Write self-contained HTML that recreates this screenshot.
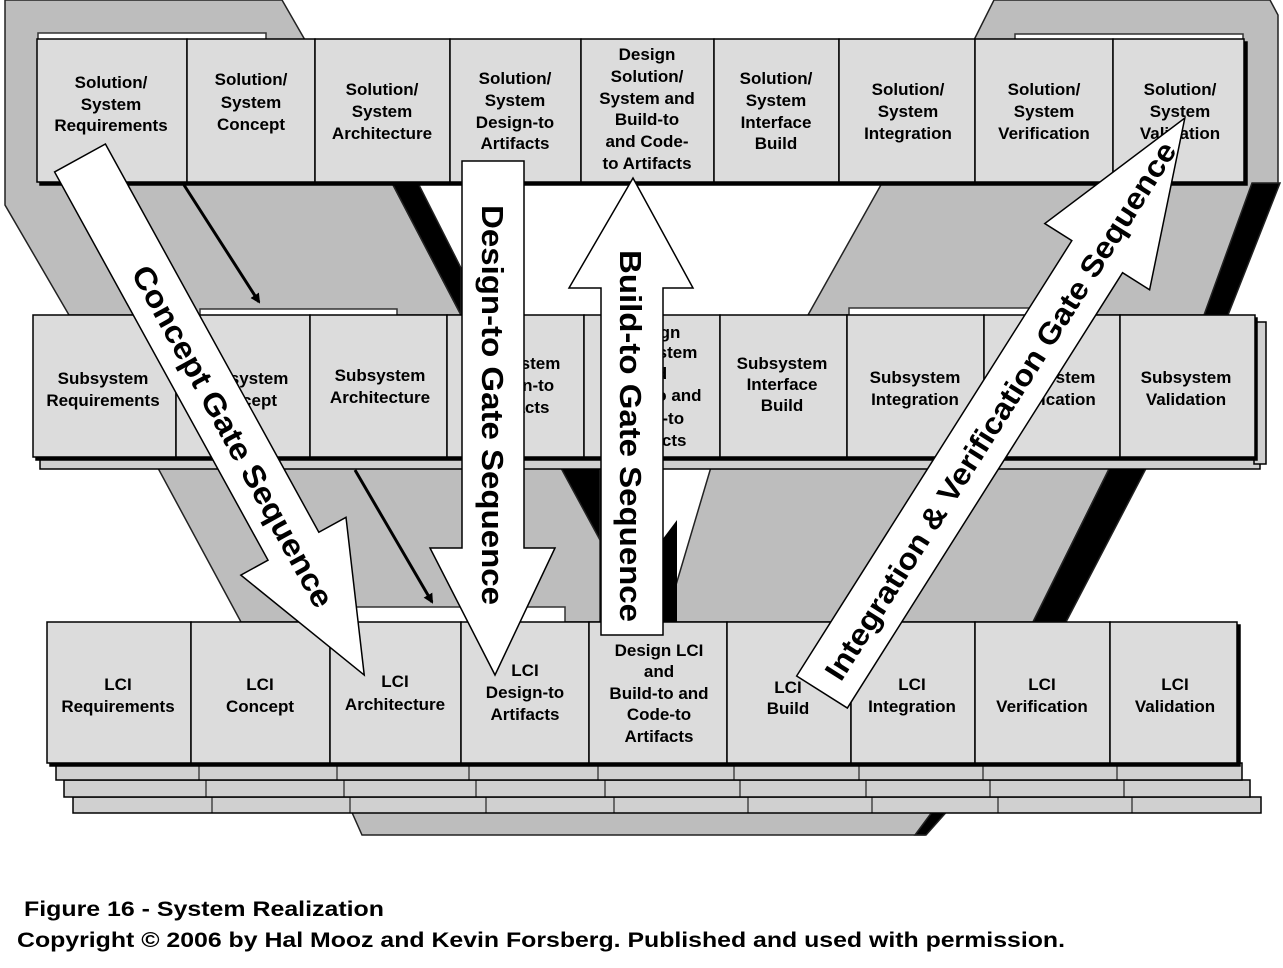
<!DOCTYPE html>
<html><head><meta charset="utf-8"><style>
html,body{margin:0;padding:0;background:#fff;}
svg{display:block;}
.b text{font-family:"Liberation Sans",Arial,sans-serif;font-weight:bold;fill:#000;text-anchor:middle;}
</style></head><body>
<svg width="1283" height="968" viewBox="0 0 1283 968" xmlns="http://www.w3.org/2000/svg">
<defs>
<marker id="ah" markerWidth="10" markerHeight="10" refX="8" refY="5" orient="auto" markerUnits="userSpaceOnUse"><path d="M0,0 L10,5 L0,10 z" fill="#000"/></marker>
</defs>
<g stroke="#222" stroke-width="1.5">
<polygon points="5,0 282,0 305,40 392,183 461,315 69,315 5,205" fill="#bdbdbd"/>
<polygon points="392,183 418,183 461,268 461,315" fill="#000"/>
<polygon points="994,0 1270,0 1278,15 1278,183 1226,315 808,315 882,183 974,40" fill="#bdbdbd"/>
<polygon points="1252,183 1280,183 1228,315 1204,315" fill="#000"/>
<polygon points="152,457 600,457 600,622 241,622" fill="#bdbdbd"/>
<polygon points="555,457 600,457 600,540" fill="#000"/>
<polygon points="714,457 1115,457 1033,622 665,622" fill="#bdbdbd"/>
<polygon points="1115,457 1152,457 1066,622 1033,622" fill="#000"/>
<polygon points="662,540 677,520 677,622 662,622" fill="#000" stroke="none"/>
<polygon points="350,808 948,808 925,835 362,835" fill="#bdbdbd"/>
<polygon points="935,808 950,808 926,835 915,835" fill="#000"/>
</g>
<g fill="#fff" stroke="#333" stroke-width="1.5">
<rect x="38" y="33" width="228" height="10"/>
<rect x="1015" y="34" width="228" height="10"/>
<rect x="200" y="309" width="197" height="10"/>
<rect x="849" y="308" width="185" height="10"/>
<rect x="352" y="607" width="213" height="18"/>
</g>
<line x1="184" y1="185" x2="259" y2="302" stroke="#000" stroke-width="3" marker-end="url(#ah)"/>
<line x1="355" y1="470" x2="432" y2="602" stroke="#000" stroke-width="3" marker-end="url(#ah)"/>

<g fill="#d0d0d0" stroke="#000" stroke-width="1.5">
<rect x="73" y="797" width="1188" height="16"/>
<rect x="64" y="780" width="1186" height="17"/>
<rect x="56" y="763" width="1186" height="17"/>
</g>
<g stroke="#000" stroke-width="1">
<line x1="212" y1="797" x2="212" y2="813"/><line x1="350" y1="797" x2="350" y2="813"/><line x1="486" y1="797" x2="486" y2="813"/><line x1="614" y1="797" x2="614" y2="813"/><line x1="748" y1="797" x2="748" y2="813"/><line x1="872" y1="797" x2="872" y2="813"/><line x1="998" y1="797" x2="998" y2="813"/><line x1="1132" y1="797" x2="1132" y2="813"/>
<line x1="206" y1="780" x2="206" y2="797"/><line x1="344" y1="780" x2="344" y2="797"/><line x1="476" y1="780" x2="476" y2="797"/><line x1="605" y1="780" x2="605" y2="797"/><line x1="740" y1="780" x2="740" y2="797"/><line x1="866" y1="780" x2="866" y2="797"/><line x1="990" y1="780" x2="990" y2="797"/><line x1="1124" y1="780" x2="1124" y2="797"/>
<line x1="199" y1="763" x2="199" y2="780"/><line x1="337" y1="763" x2="337" y2="780"/><line x1="469" y1="763" x2="469" y2="780"/><line x1="598" y1="763" x2="598" y2="780"/><line x1="734" y1="763" x2="734" y2="780"/><line x1="859" y1="763" x2="859" y2="780"/><line x1="983" y1="763" x2="983" y2="780"/><line x1="1117" y1="763" x2="1117" y2="780"/>
</g>
<rect x="40" y="457" width="1220" height="12" fill="#d0d0d0" stroke="#000" stroke-width="1.5"/>
<rect x="1254" y="322" width="12" height="142" fill="#d0d0d0" stroke="#000" stroke-width="1.5"/>

<g fill="#dcdcdc" stroke="#000" stroke-width="1.5">
<rect x="40" y="42" width="1207" height="143" fill="#000"/>
<rect x="37" y="39" width="150" height="143"/><rect x="187" y="39" width="128" height="143"/><rect x="315" y="39" width="135" height="143"/><rect x="450" y="39" width="131" height="143"/><rect x="581" y="39" width="133" height="143"/><rect x="714" y="39" width="125" height="143"/><rect x="839" y="39" width="136" height="143"/><rect x="975" y="39" width="138" height="143"/><rect x="1113" y="39" width="131" height="143"/>
<rect x="36" y="318" width="1221" height="142" fill="#000"/>
<rect x="33" y="315" width="143" height="142"/><rect x="176" y="315" width="134" height="142"/><rect x="310" y="315" width="137" height="142"/><rect x="447" y="315" width="137" height="142"/><rect x="584" y="315" width="136" height="142"/><rect x="720" y="315" width="127" height="142"/><rect x="847" y="315" width="137" height="142"/><rect x="984" y="315" width="136" height="142"/><rect x="1120" y="315" width="135" height="142"/>
<rect x="50" y="625" width="1190" height="141" fill="#000"/>
<rect x="47" y="622" width="144" height="141"/><rect x="191" y="622" width="139" height="141"/><rect x="330" y="622" width="131" height="141"/><rect x="461" y="622" width="128" height="141"/><rect x="589" y="622" width="138" height="141"/><rect x="727" y="622" width="124" height="141"/><rect x="851" y="622" width="124" height="141"/><rect x="975" y="622" width="135" height="141"/><rect x="1110" y="622" width="127" height="141"/>
</g>

<g class="b" font-size="17">
<text x="111" y="88">Solution/</text><text x="111" y="110">System</text><text x="111" y="131">Requirements</text>
<text x="251" y="85">Solution/</text><text x="251" y="108">System</text><text x="251" y="130">Concept</text>
<text x="382" y="95">Solution/</text><text x="382" y="117">System</text><text x="382" y="139">Architecture</text>
<text x="515" y="84">Solution/</text><text x="515" y="106">System</text><text x="515" y="128">Design-to</text><text x="515" y="149">Artifacts</text>
<text x="647" y="60">Design</text><text x="647" y="82">Solution/</text><text x="647" y="104">System and</text><text x="647" y="125">Build-to</text><text x="647" y="147">and Code-</text><text x="647" y="169">to Artifacts</text>
<text x="776" y="84">Solution/</text><text x="776" y="106">System</text><text x="776" y="128">Interface</text><text x="776" y="149">Build</text>
<text x="908" y="95">Solution/</text><text x="908" y="117">System</text><text x="908" y="139">Integration</text>
<text x="1044" y="95">Solution/</text><text x="1044" y="117">System</text><text x="1044" y="139">Verification</text>
<text x="1180" y="95">Solution/</text><text x="1180" y="117">System</text><text x="1180" y="139">Validation</text>

<text x="103" y="384">Subsystem</text><text x="103" y="406">Requirements</text>
<text x="243" y="384">Subsystem</text><text x="243" y="406">Concept</text>
<text x="380" y="381">Subsystem</text><text x="380" y="403">Architecture</text>
<text x="515" y="369">Subsystem</text><text x="515" y="391">Design-to</text><text x="515" y="413">Artifacts</text>
<text x="652" y="338">Design</text><text x="652" y="358">Subsystem</text><text x="652" y="379">and</text><text x="652" y="401">Build-to and</text><text x="652" y="424">Code-to</text><text x="652" y="446">Artifacts</text>
<text x="782" y="369">Subsystem</text><text x="782" y="390">Interface</text><text x="782" y="411">Build</text>
<text x="915" y="383">Subsystem</text><text x="915" y="405">Integration</text>
<text x="1050" y="383">Subsystem</text><text x="1050" y="405">Verification</text>
<text x="1186" y="383">Subsystem</text><text x="1186" y="405">Validation</text>

<text x="118" y="690">LCI</text><text x="118" y="712">Requirements</text>
<text x="260" y="690">LCI</text><text x="260" y="712">Concept</text>
<text x="395" y="687">LCI</text><text x="395" y="710">Architecture</text>
<text x="525" y="676">LCI</text><text x="525" y="698">Design-to</text><text x="525" y="720">Artifacts</text>
<text x="659" y="656">Design LCI</text><text x="659" y="677">and</text><text x="659" y="699">Build-to and</text><text x="659" y="720">Code-to</text><text x="659" y="742">Artifacts</text>
<text x="788" y="693">LCI</text><text x="788" y="714">Build</text>
<text x="912" y="690">LCI</text><text x="912" y="712">Integration</text>
<text x="1042" y="690">LCI</text><text x="1042" y="712">Verification</text>
<text x="1175" y="690">LCI</text><text x="1175" y="712">Validation</text>
</g>

<g fill="#fff" stroke="#000" stroke-width="1.5">
<g transform="translate(80,158) rotate(61.2)">
<polygon points="0,-29 443,-29 443,-60 590,0 443,60 443,29 0,29"/>
</g>
<polygon points="462,161 524,161 524,548 555,548 495,675 430,548 462,548"/>
<polygon points="601,635 663,635 663,288 693,288 633,178 569,288 601,288"/>
<g transform="translate(822,692) rotate(-57.7)">
<polygon points="0,-30 515,-30 515,-62 679,0 515,62 515,30 0,30"/>
</g>
</g>
<g class="b">
<text transform="translate(80,158) rotate(61.2)" x="125" y="11" font-size="31" style="text-anchor:start" textLength="385" lengthAdjust="spacingAndGlyphs">Concept Gate Sequence</text>
<text transform="translate(482,205) rotate(90)" x="0" y="0" font-size="31" style="text-anchor:start" textLength="400" lengthAdjust="spacingAndGlyphs">Design-to Gate Sequence</text>
<text transform="translate(620,250) rotate(90)" x="0" y="0" font-size="31" style="text-anchor:start" textLength="372" lengthAdjust="spacingAndGlyphs">Build-to Gate Sequence</text>
<text transform="translate(822,692) rotate(-57.7)" x="18" y="11" font-size="30" style="text-anchor:start" textLength="630" lengthAdjust="spacingAndGlyphs">Integration &amp; Verification Gate Sequence</text>
</g>

<g class="b" font-size="21">
<text x="24" y="916" style="text-anchor:start" textLength="360" lengthAdjust="spacingAndGlyphs">Figure 16 - System Realization</text>
<text x="17" y="947" style="text-anchor:start" textLength="1048" lengthAdjust="spacingAndGlyphs">Copyright © 2006 by Hal Mooz and Kevin Forsberg. Published and used with permission.</text>
</g>
</svg>
</body></html>
